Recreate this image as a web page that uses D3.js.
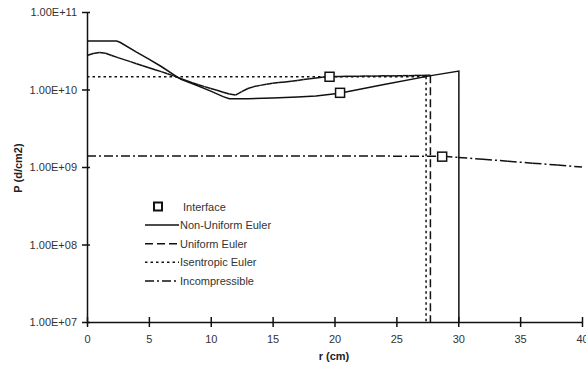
<!DOCTYPE html>
<html>
<head>
<meta charset="utf-8">
<title>Pressure profile</title>
<script src="https://cdn.jsdelivr.net/npm/d3@7"></script>
<style>
  body { margin: 0; background: #fff; }
  text { font-family: "Liberation Sans", Arial, sans-serif; }
</style>
</head>
<body>
<svg id="svg"></svg>
<script>
var WIDTH = 586, HEIGHT = 370;

// tick values
var xTicks = [0, 5, 10, 15, 20, 25, 30, 35, 40];
var yTicks = [1e7, 1e8, 1e9, 1e10, 1e11];

// series, [r (cm), P (d/cm2)]
var nonUniform = [[0,4.22e10],[2.4,4.22e10],[2.7,4.04e10],[4,3.04e10],[5,2.47e10],[6,1.98e10],
  [7,1.56e10],[7.6,1.35e10],[9,1.11e10],[10,9.53e9],[11,8.09e9],[11.5,7.62e9],[12,7.59e9],
  [13,7.62e9],[15,7.78e9],[17,7.98e9],[18.5,8.22e9],[20.4,8.97e9],[24,1.16e10],[27.8,1.51e10],
  [30.05,1.73e10],[30.05,1e7]];

var uniform = [[0,2.74e10],[0.5,2.91e10],[1,3.01e10],[1.5,2.93e10],[2,2.74e10],[2.5,2.58e10],
  [3,2.43e10],[3.5,2.29e10],[4,2.15e10],[4.5,2.03e10],[5,1.91e10],[5.5,1.80e10],[6,1.70e10],
  [6.5,1.60e10],[7,1.50e10],[7.5,1.40e10],[8,1.31e10],[8.5,1.22e10],[9,1.15e10],[9.5,1.09e10],
  [10,1.03e10],[10.5,9.77e9],[11,9.23e9],[11.5,8.73e9],[12,8.47e9],[12.5,9.40e9],[13,1.03e10],
  [13.5,1.09e10],[14,1.13e10],[14.5,1.17e10],[15,1.20e10],[15.5,1.23e10],[16,1.25e10],
  [16.5,1.28e10],[17,1.31e10],[17.5,1.35e10],[18,1.38e10],[18.5,1.41e10],[19,1.44e10],
  [19.5,1.46e10],[20,1.47e10],[20.5,1.47e10],[21,1.48e10],[21.5,1.48e10],[22,1.48e10],
  [22.5,1.49e10],[23,1.49e10],[23.5,1.49e10],[24,1.50e10],[24.5,1.50e10],[25,1.50e10],
  [25.5,1.51e10],[26,1.51e10],[26.5,1.52e10],[27,1.52e10],[27.5,1.53e10],[27.75,1.53e10],
  [27.75,1e7]];

var isentropic = [[0,1.46e10],[27.4,1.46e10],[27.4,1e7]];

var incompressible = [[0,1.39e9],[28.8,1.38e9],[30,1.33e9],[32,1.26e9],[34,1.19e9],
  [36,1.12e9],[38,1.06e9],[40,1.00e9]];

var interfacePts = [[19.6,1.46e10],[20.45,9.06e9],[28.7,1.36e9]];

var legendNames = ["Interface", "Non-Uniform Euler", "Uniform Euler", "Isentropic Euler", "Incompressible"];

var INK = "#111";

var svg = d3.select("#svg").attr("width", WIDTH).attr("height", HEIGHT);

var x = d3.scaleLinear().domain([0, 40]).range([87, 582]);
var y = d3.scaleLog().domain([1e7, 1e11]).range([322, 12]);

// axes
var yAxis = d3.axisLeft(y).tickValues(yTicks)
  .tickFormat(function(d){ return "1.00E+" + String(Math.round(Math.log10(d))).padStart(2, "0"); })
  .tickSize(5).tickSizeOuter(0).tickPadding(5);
var gy = svg.append("g").attr("transform", "translate(" + x(0) + ",0)").call(yAxis);
gy.selectAll(".tick line").attr("x1", 3);

var xAxis = d3.axisBottom(x).tickValues(xTicks).tickSize(5).tickSizeOuter(0).tickPadding(8);
var gx = svg.append("g").attr("transform", "translate(0," + y(1e7) + ")").call(xAxis);
gx.selectAll(".tick line").attr("y1", -5);

svg.selectAll(".domain, .tick line").attr("stroke", INK).attr("stroke-width", 1.5);
svg.selectAll(".tick text").attr("fill", "#333").attr("font-size", "11px")
  .attr("font-family", "'Liberation Sans', Arial, sans-serif");

// axis titles
svg.append("text").attr("x", 334).attr("y", 360).attr("text-anchor", "middle")
  .attr("font-size", "11px").attr("font-weight", "bold").attr("fill", "#222").text("r (cm)");
svg.append("text").attr("transform", "translate(22,168) rotate(-90)").attr("text-anchor", "middle")
  .attr("font-size", "11px").attr("font-weight", "bold").attr("fill", "#222").text("P (d/cm2)");

var plot = svg.append("g").attr("fill", "none").attr("stroke", INK).attr("stroke-width", 1.5);

// dashed series: pattern restarts on every segment
function segments(data, dash) {
  var segs = d3.pairs(data);
  plot.selectAll(null).data(segs).enter().append("line")
    .attr("x1", function(d){ return x(d[0][0]); })
    .attr("y1", function(d){ return y(d[0][1]); })
    .attr("x2", function(d){ return x(d[1][0]); })
    .attr("y2", function(d){ return y(d[1][1]); })
    .attr("stroke-dasharray", dash);
}

var line = d3.line().x(function(d){ return x(d[0]); }).y(function(d){ return y(d[1]); });

segments(isentropic, "2.5,3");
segments(incompressible, "9,3,2,3");
segments(uniform, "8,4");
plot.append("path").datum(nonUniform).attr("d", line);

// interface markers
svg.selectAll(".iface").data(interfacePts).enter().append("rect")
  .attr("x", function(d){ return x(d[0]) - 4.5; })
  .attr("y", function(d){ return y(d[1]) - 4.5; })
  .attr("width", 9).attr("height", 9)
  .attr("fill", "#fff").attr("stroke", INK).attr("stroke-width", 1.5);

// legend
var dashes = [null, null, "8,4", "2.5,3", "9,3,2,3"];
var lg = svg.append("g");
legendNames.forEach(function(name, i){
  var ly = 206.5 + i * 18.6;
  if (i === 0) {
    lg.append("rect").attr("x", 154).attr("y", ly - 4).attr("width", 8).attr("height", 8)
      .attr("fill", "#fff").attr("stroke", INK).attr("stroke-width", 2);
  } else {
    lg.append("line").attr("x1", 145).attr("x2", 179).attr("y1", ly).attr("y2", ly)
      .attr("stroke", INK).attr("stroke-width", 1.5).attr("stroke-dasharray", dashes[i]);
  }
  lg.append("text").attr("x", i === 0 ? 183 : 180).attr("y", ly + 4)
    .attr("font-size", "11px").attr("fill", "#333").text(name);
});
</script>
</body>
</html>
